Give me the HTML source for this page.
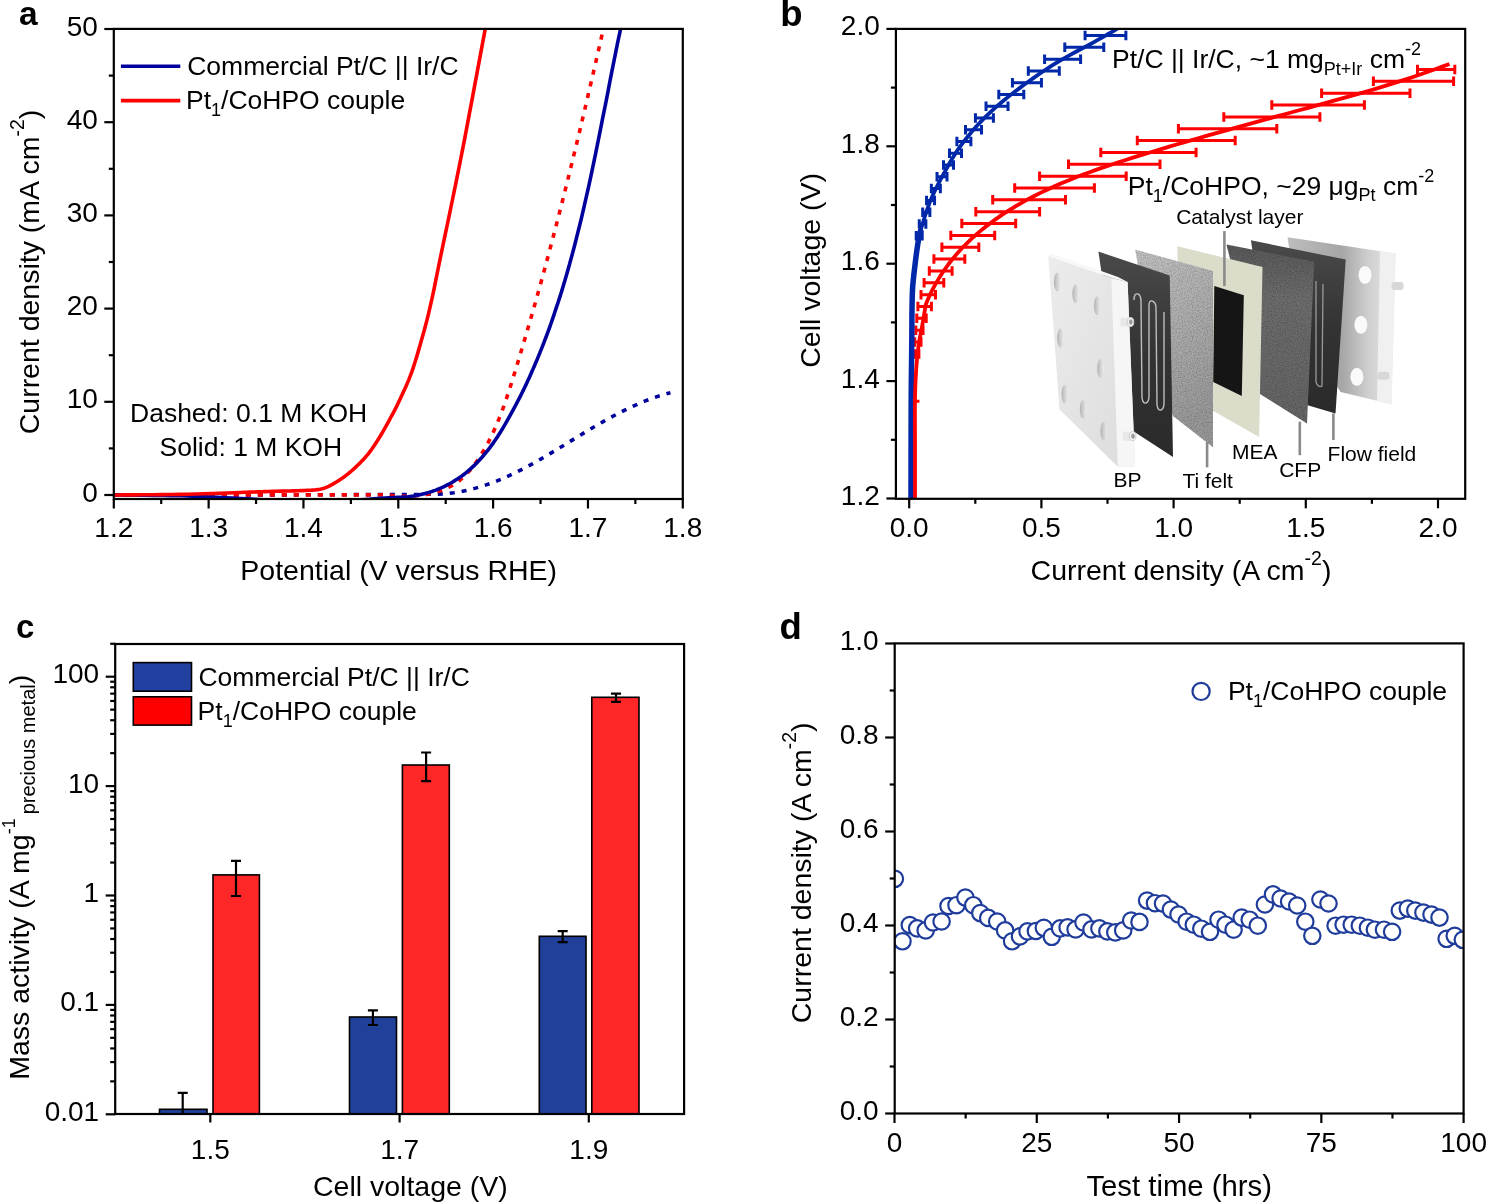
<!DOCTYPE html>
<html><head><meta charset="utf-8"><style>
html,body{margin:0;padding:0;background:#fff;width:1486px;height:1203px;overflow:hidden}
svg{display:block;will-change:transform}
text{font-family:"Liberation Sans", sans-serif;fill:#000}
</style></head><body>
<svg width="1486" height="1203" viewBox="0 0 1486 1203">
<rect width="1486" height="1203" fill="#fff"/>
<g id="pa">
<clipPath id="clipa"><rect x="113.8" y="28.9" width="569" height="470.1"/></clipPath>
<g clip-path="url(#clipa)">
<path d="M113.80,495.30 L139.52,495.23 L176.00,495.14 L219.65,495.02 L266.90,494.90 L314.15,494.78 L357.80,494.66 L394.28,494.57 L420.00,494.50 L425.33,494.15 L431.20,494.28 L437.00,494.19 L442.72,493.89 L448.37,493.39 L453.95,492.69 L459.47,491.81 L464.92,490.75 L470.32,489.51 L475.66,488.12 L480.94,486.56 L486.18,484.87 L491.37,483.03 L496.51,481.06 L501.61,478.97 L506.67,476.77 L511.69,474.46 L516.69,472.05 L521.65,469.55 L526.58,466.97 L531.49,464.32 L536.37,461.60 L541.24,458.82 L546.09,455.99 L550.92,453.12 L555.75,450.22 L560.57,447.29 L565.38,444.35 L570.19,441.39 L575.00,438.43 L579.82,435.49 L584.64,432.55 L589.47,429.64 L594.32,426.76 L599.18,423.92 L604.05,421.12 L608.95,418.38 L613.87,415.71 L618.82,413.10 L623.80,410.58 L628.81,408.14 L633.86,405.80 L638.94,403.56 L644.06,401.43 L649.23,399.43 L654.45,397.55 L659.71,395.80 L665.03,394.21 L670.40,392.76" fill="none" stroke="#00009C" stroke-width="3.6" stroke-linejoin="round" stroke-dasharray="5 7"/>
<path d="M113.80,495.10 L136.61,495.07 L168.97,495.04 L207.69,495.00 L249.60,494.95 L291.51,494.90 L330.23,494.86 L362.59,494.83 L385.40,494.80 L394.82,495.74 L404.61,496.25 L414.47,495.99 L424.23,494.91 L433.73,492.92 L442.82,489.97 L451.34,485.97 L459.12,480.85 L466.07,474.63 L472.28,467.53 L477.88,459.85 L482.98,451.84 L487.65,443.59 L491.93,435.12 L495.87,426.45 L499.51,417.63 L502.91,408.67 L506.10,399.61 L509.13,390.47 L512.04,381.28 L514.89,372.07 L517.70,362.86 L520.48,353.65 L523.23,344.44 L525.94,335.23 L528.63,326.02 L531.29,316.81 L533.91,307.59 L536.51,298.38 L539.09,289.16 L541.63,279.95 L544.16,270.73 L546.65,261.50 L549.12,252.28 L551.57,243.05 L554.00,233.82 L556.40,224.59 L558.79,215.35 L561.15,206.10 L563.50,196.86 L565.82,187.61 L568.13,178.35 L570.42,169.09 L572.69,159.82 L574.95,150.55 L577.20,141.27 L579.43,131.99 L581.64,122.70 L583.85,113.40 L586.04,104.10 L588.22,94.78 L590.39,85.46 L592.55,76.14 L594.70,66.80 L596.85,57.46 L598.98,48.10 L601.12,38.74 L603.24,29.37 L605.36,19.99" fill="none" stroke="#FF0000" stroke-width="3.6" stroke-linejoin="round" stroke-dasharray="5 7"/>
<path d="M113.80,495.00 L118.95,495.05 L125.84,495.10 L134.05,495.16 L143.15,495.23 L152.72,495.33 L162.33,495.45 L171.57,495.60 L180.00,495.80 L187.80,496.04 L195.44,496.33 L202.95,496.66 L210.39,497.01 L217.77,497.38 L225.15,497.76 L232.54,498.14 L240.00,498.50 L247.57,498.89 L255.23,499.32 L262.94,499.78 L270.62,500.23 L278.23,500.65 L285.70,501.02 L292.98,501.31 L300.00,501.50 L306.83,501.58 L313.55,501.57 L320.14,501.48 L326.56,501.34 L332.79,501.16 L338.79,500.95 L344.54,500.72 L350.00,500.50 L355.18,500.25 L360.09,499.95 L364.76,499.62 L369.20,499.26 L373.43,498.91 L377.46,498.57 L381.31,498.26 L385.00,498.00 L388.50,497.80 L391.78,497.63 L394.86,497.50 L397.76,497.39 L400.48,497.27 L403.05,497.15 L405.49,496.99 L407.80,496.80 L409.92,496.57 L411.81,496.33 L413.52,496.08 L415.10,495.80 L416.60,495.51 L418.06,495.19 L419.55,494.86 L421.10,494.50 L422.70,494.12 L424.28,493.72 L425.86,493.30 L427.41,492.86 L428.96,492.40 L430.48,491.91 L432.00,491.42 L433.50,490.90 L434.99,490.37 L436.46,489.81 L437.91,489.24 L439.36,488.65 L440.79,488.04 L442.20,487.41 L443.61,486.77 L445.00,486.10 L446.38,485.41 L447.75,484.71 L449.11,483.98 L450.45,483.24 L451.78,482.48 L453.10,481.70 L454.41,480.91 L455.70,480.10 L456.98,479.28 L458.25,478.44 L459.51,477.59 L460.76,476.73 L461.99,475.84 L463.21,474.94 L464.41,474.03 L465.60,473.10 L466.77,472.15 L467.93,471.19 L469.07,470.21 L470.20,469.22 L471.32,468.21 L472.42,467.19 L473.51,466.15 L474.60,465.10 L475.68,464.04 L476.74,462.95 L477.79,461.86 L478.83,460.75 L479.86,459.63 L480.88,458.50 L481.90,457.35 L482.90,456.20 L483.90,455.04 L484.88,453.86 L485.86,452.68 L486.82,451.48 L487.78,450.27 L488.73,449.06 L489.67,447.83 L490.60,446.60 L491.52,445.36 L492.43,444.10 L493.33,442.84 L494.22,441.57 L495.10,440.29 L495.97,439.00 L496.84,437.70 L497.70,436.40 L498.55,435.09 L499.39,433.77 L500.23,432.44 L501.06,431.10 L501.88,429.76 L502.69,428.41 L503.50,427.06 L504.30,425.70 L505.10,424.34 L505.88,422.97 L506.66,421.60 L507.44,420.22 L508.21,418.85 L508.97,417.46 L509.74,416.08 L510.50,414.70 L511.26,413.32 L512.02,411.94 L512.77,410.55 L513.52,409.17 L514.27,407.78 L515.02,406.39 L515.76,405.00 L516.50,403.60 L517.24,402.20 L517.97,400.79 L518.70,399.39 L519.43,397.98 L520.16,396.56 L520.88,395.14 L521.59,393.72 L522.30,392.30 L523.00,390.87 L523.70,389.44 L524.40,388.01 L525.09,386.58 L525.77,385.14 L526.45,383.69 L527.13,382.25 L527.80,380.80 L528.47,379.35 L529.13,377.89 L529.78,376.43 L530.43,374.96 L531.08,373.50 L531.72,372.03 L532.36,370.56 L533.00,369.10 L533.64,367.64 L534.27,366.18 L534.90,364.73 L535.52,363.27 L536.15,361.81 L536.77,360.35 L537.39,358.88 L538.00,357.40 L538.61,355.91 L539.22,354.42 L539.82,352.92 L540.43,351.42 L541.02,349.91 L541.62,348.41 L542.21,346.90 L542.80,345.40 L543.39,343.90 L543.97,342.40 L544.55,340.91 L545.12,339.41 L545.70,337.91 L546.27,336.41 L546.84,334.91 L547.40,333.40 L547.96,331.89 L548.52,330.37 L549.08,328.84 L549.63,327.32 L550.18,325.79 L550.73,324.26 L551.27,322.73 L551.80,321.20 L552.33,319.67 L552.85,318.13 L553.36,316.59 L553.87,315.06 L554.38,313.52 L554.88,311.98 L555.39,310.44 L555.90,308.90 L556.41,307.36 L556.93,305.83 L557.45,304.30 L557.97,302.76 L558.48,301.23 L559.00,299.69 L559.50,298.15 L560.00,296.60 L560.49,295.05 L560.97,293.49 L561.45,291.93 L561.93,290.37 L562.40,288.80 L562.86,287.24 L563.33,285.67 L563.80,284.10 L564.27,282.53 L564.74,280.96 L565.20,279.38 L565.67,277.81 L566.13,276.23 L566.59,274.65 L567.05,273.08 L567.50,271.50 L567.95,269.93 L568.39,268.35 L568.83,266.78 L569.27,265.21 L569.70,263.63 L570.14,262.06 L570.57,260.48 L571.00,258.90 L571.43,257.32 L571.86,255.73 L572.29,254.14 L572.72,252.56 L573.14,250.97 L573.57,249.38 L573.99,247.79 L574.40,246.20 L574.81,244.61 L575.21,243.03 L575.61,241.44 L576.01,239.86 L576.41,238.27 L576.80,236.68 L577.20,235.09 L577.60,233.50 L578.00,231.90 L578.40,230.31 L578.81,228.71 L579.21,227.11 L579.61,225.50 L580.01,223.90 L580.41,222.30 L580.80,220.70 L581.19,219.10 L581.57,217.50 L581.94,215.90 L582.32,214.30 L582.69,212.70 L583.06,211.10 L583.43,209.50 L583.80,207.90 L584.17,206.30 L584.53,204.70 L584.89,203.10 L585.26,201.51 L585.62,199.91 L585.98,198.31 L586.34,196.70 L586.70,195.10 L587.06,193.49 L587.43,191.88 L587.80,190.27 L588.16,188.65 L588.53,187.03 L588.89,185.42 L589.25,183.81 L589.60,182.20 L589.95,180.60 L590.29,179.00 L590.63,177.40 L590.96,175.80 L591.30,174.20 L591.63,172.60 L591.96,171.00 L592.30,169.40 L592.64,167.79 L592.98,166.18 L593.32,164.57 L593.66,162.95 L593.99,161.33 L594.33,159.72 L594.67,158.11 L595.00,156.50 L595.33,154.90 L595.66,153.30 L595.98,151.70 L596.31,150.10 L596.63,148.50 L596.95,146.90 L597.28,145.30 L597.60,143.70 L597.93,142.09 L598.25,140.48 L598.58,138.87 L598.91,137.25 L599.23,135.63 L599.56,134.02 L599.88,132.41 L600.20,130.80 L600.52,129.19 L600.83,127.59 L601.14,125.99 L601.45,124.39 L601.76,122.79 L602.07,121.19 L602.38,119.59 L602.70,118.00 L603.02,116.41 L603.35,114.82 L603.67,113.23 L604.00,111.64 L604.33,110.06 L604.65,108.47 L604.98,106.89 L605.30,105.30 L605.62,103.71 L605.93,102.12 L606.25,100.54 L606.56,98.95 L606.87,97.36 L607.18,95.77 L607.49,94.19 L607.80,92.60 L608.10,91.01 L608.40,89.42 L608.70,87.83 L609.00,86.24 L609.30,84.66 L609.60,83.07 L609.90,81.48 L610.20,79.90 L610.51,78.32 L610.82,76.74 L611.13,75.16 L611.44,73.59 L611.76,72.01 L612.07,70.44 L612.39,68.87 L612.70,67.30 L613.01,65.73 L613.33,64.17 L613.64,62.60 L613.95,61.04 L614.26,59.48 L614.58,57.92 L614.89,56.36 L615.20,54.80 L615.51,53.24 L615.82,51.69 L616.13,50.14 L616.44,48.59 L616.76,47.04 L617.07,45.49 L617.38,43.94 L617.70,42.40 L618.02,40.84 L618.36,39.27 L618.70,37.68 L619.04,36.11 L619.37,34.55 L619.70,33.02 L620.01,31.53 L620.30,30.10 L620.58,28.66 L620.87,27.18 L621.15,25.71 L621.41,24.28 L621.66,22.95 L621.88,21.76 L622.06,20.76 L622.20,20.00" fill="none" stroke="#00009C" stroke-width="3.6" stroke-linejoin="round" />
<path d="M113.80,495.00 L118.95,494.96 L125.84,494.92 L134.05,494.88 L143.15,494.82 L152.72,494.75 L162.33,494.66 L171.57,494.54 L180.00,494.40 L187.99,494.22 L196.09,494.00 L204.17,493.75 L212.12,493.48 L219.80,493.21 L227.09,492.95 L233.87,492.71 L240.00,492.50 L245.36,492.32 L250.02,492.16 L254.14,492.02 L257.88,491.89 L261.40,491.76 L264.87,491.64 L268.45,491.52 L272.30,491.40 L276.47,491.28 L280.83,491.16 L285.27,491.05 L289.66,490.94 L293.91,490.83 L297.89,490.72 L301.49,490.61 L304.60,490.50 L307.17,490.40 L309.29,490.31 L311.05,490.22 L312.53,490.13 L313.83,490.03 L315.03,489.92 L316.23,489.77 L317.50,489.60 L318.77,489.41 L319.90,489.22 L320.94,489.02 L321.93,488.80 L322.90,488.54 L323.90,488.23 L324.95,487.85 L326.10,487.40 L327.34,486.87 L328.65,486.27 L329.99,485.60 L331.36,484.89 L332.75,484.13 L334.15,483.34 L335.53,482.53 L336.90,481.70 L338.25,480.85 L339.60,479.98 L340.95,479.08 L342.31,478.14 L343.66,477.18 L345.01,476.19 L346.35,475.16 L347.70,474.10 L349.04,473.01 L350.38,471.89 L351.72,470.75 L353.05,469.57 L354.38,468.36 L355.72,467.11 L357.06,465.82 L358.40,464.50 L359.75,463.15 L361.09,461.79 L362.44,460.39 L363.79,458.96 L365.15,457.47 L366.50,455.92 L367.85,454.30 L369.20,452.60 L370.55,450.81 L371.90,448.95 L373.24,447.02 L374.59,445.03 L375.94,442.97 L377.29,440.86 L378.64,438.70 L380.00,436.50 L381.38,434.21 L382.79,431.81 L384.21,429.34 L385.62,426.83 L387.03,424.30 L388.40,421.80 L389.73,419.36 L391.00,417.00 L392.18,414.80 L393.28,412.77 L394.32,410.82 L395.34,408.88 L396.36,406.87 L397.43,404.72 L398.56,402.35 L399.80,399.70 L401.15,396.80 L402.58,393.75 L404.07,390.54 L405.60,387.16 L407.16,383.61 L408.73,379.87 L410.28,375.93 L411.80,371.80 L413.33,367.33 L414.90,362.48 L416.48,357.37 L418.06,352.11 L419.60,346.81 L421.09,341.60 L422.50,336.59 L423.80,331.90 L424.98,327.57 L426.06,323.51 L427.06,319.62 L428.00,315.84 L428.91,312.06 L429.81,308.20 L430.74,304.18 L431.70,299.90 L432.60,295.83 L433.37,292.23 L434.09,288.77 L434.83,285.07 L435.68,280.81 L436.73,275.60 L438.04,269.12 L439.70,261.00 L441.75,251.10 L444.13,239.71 L446.77,227.09 L449.61,213.51 L452.56,199.24 L455.58,184.55 L458.58,169.71 L461.50,155.00 L464.54,139.32 L467.85,121.94 L471.29,103.68 L474.71,85.38 L477.98,67.83 L480.94,51.88 L483.47,38.32 L485.40,28.00 L486.68,21.25 L487.41,17.45 L487.70,15.93 L487.69,16.06 L487.50,17.18 L487.24,18.65 L487.03,19.80 L487.00,20.00" fill="none" stroke="#FF0000" stroke-width="3.6" stroke-linejoin="round" />
</g>
<rect x="113.8" y="28.9" width="569.0" height="470.1" fill="none" stroke="#000" stroke-width="2.2"/>
<line x1="104.30" y1="495.00" x2="113.80" y2="495.00" stroke="#000" stroke-width="2.2" />
<line x1="104.30" y1="401.80" x2="113.80" y2="401.80" stroke="#000" stroke-width="2.2" />
<line x1="104.30" y1="308.60" x2="113.80" y2="308.60" stroke="#000" stroke-width="2.2" />
<line x1="104.30" y1="215.40" x2="113.80" y2="215.40" stroke="#000" stroke-width="2.2" />
<line x1="104.30" y1="122.20" x2="113.80" y2="122.20" stroke="#000" stroke-width="2.2" />
<line x1="104.30" y1="29.00" x2="113.80" y2="29.00" stroke="#000" stroke-width="2.2" />
<line x1="108.80" y1="448.40" x2="113.80" y2="448.40" stroke="#000" stroke-width="2.2" />
<line x1="108.80" y1="355.20" x2="113.80" y2="355.20" stroke="#000" stroke-width="2.2" />
<line x1="108.80" y1="262.00" x2="113.80" y2="262.00" stroke="#000" stroke-width="2.2" />
<line x1="108.80" y1="168.80" x2="113.80" y2="168.80" stroke="#000" stroke-width="2.2" />
<line x1="108.80" y1="75.60" x2="113.80" y2="75.60" stroke="#000" stroke-width="2.2" />
<text x="97.80" y="501.50" font-size="28" text-anchor="end" >0</text>
<text x="97.80" y="408.30" font-size="28" text-anchor="end" >10</text>
<text x="97.80" y="315.10" font-size="28" text-anchor="end" >20</text>
<text x="97.80" y="221.90" font-size="28" text-anchor="end" >30</text>
<text x="97.80" y="128.70" font-size="28" text-anchor="end" >40</text>
<text x="97.80" y="35.50" font-size="28" text-anchor="end" >50</text>
<line x1="113.80" y1="499.00" x2="113.80" y2="508.50" stroke="#000" stroke-width="2.2" />
<line x1="208.63" y1="499.00" x2="208.63" y2="508.50" stroke="#000" stroke-width="2.2" />
<line x1="303.46" y1="499.00" x2="303.46" y2="508.50" stroke="#000" stroke-width="2.2" />
<line x1="398.29" y1="499.00" x2="398.29" y2="508.50" stroke="#000" stroke-width="2.2" />
<line x1="493.12" y1="499.00" x2="493.12" y2="508.50" stroke="#000" stroke-width="2.2" />
<line x1="587.95" y1="499.00" x2="587.95" y2="508.50" stroke="#000" stroke-width="2.2" />
<line x1="682.78" y1="499.00" x2="682.78" y2="508.50" stroke="#000" stroke-width="2.2" />
<line x1="161.22" y1="499.00" x2="161.22" y2="504.00" stroke="#000" stroke-width="2.2" />
<line x1="256.05" y1="499.00" x2="256.05" y2="504.00" stroke="#000" stroke-width="2.2" />
<line x1="350.88" y1="499.00" x2="350.88" y2="504.00" stroke="#000" stroke-width="2.2" />
<line x1="445.71" y1="499.00" x2="445.71" y2="504.00" stroke="#000" stroke-width="2.2" />
<line x1="540.53" y1="499.00" x2="540.53" y2="504.00" stroke="#000" stroke-width="2.2" />
<line x1="635.37" y1="499.00" x2="635.37" y2="504.00" stroke="#000" stroke-width="2.2" />
<text x="113.80" y="537.20" font-size="28" text-anchor="middle" >1.2</text>
<text x="208.63" y="537.20" font-size="28" text-anchor="middle" >1.3</text>
<text x="303.46" y="537.20" font-size="28" text-anchor="middle" >1.4</text>
<text x="398.29" y="537.20" font-size="28" text-anchor="middle" >1.5</text>
<text x="493.12" y="537.20" font-size="28" text-anchor="middle" >1.6</text>
<text x="587.95" y="537.20" font-size="28" text-anchor="middle" >1.7</text>
<text x="682.78" y="537.20" font-size="28" text-anchor="middle" >1.8</text>
<line x1="120.90" y1="66.20" x2="180.30" y2="66.20" stroke="#00009C" stroke-width="3.6" />
<line x1="120.90" y1="100.60" x2="180.30" y2="100.60" stroke="#FF0000" stroke-width="3.6" />
<text x="187.20" y="75.30" font-size="26.5" text-anchor="start" >Commercial Pt/C || Ir/C</text>
<text x="186.00" y="109.20" font-size="26.5" text-anchor="start" >Pt<tspan dy="6.6" font-size="18">1</tspan><tspan dy="-6.6">&#8203;</tspan>/CoHPO couple</text>
<text x="130.00" y="422.00" font-size="26.5" text-anchor="start" >Dashed: 0.1 M KOH</text>
<text x="159.50" y="455.70" font-size="26.5" text-anchor="start" >Solid: 1 M KOH</text>
<text x="398.70" y="579.70" font-size="28.5" text-anchor="middle" >Potential (V versus RHE)</text>
<text transform="translate(38.8,272.0) rotate(-90)" font-size="28.5" text-anchor="middle">Current density (mA cm<tspan dy="-14.8" font-size="19.5">-2</tspan><tspan dy="14.8">&#8203;</tspan>)</text>
<text x="19" y="25.0" font-size="33.5" font-weight="bold">a</text>
</g>
<g id="pb">
<text x="780.2" y="26.0" font-size="36.5" font-weight="bold">b</text>
<defs>
<linearGradient id="gwr" x1="0" y1="0" x2="1" y2="0"><stop offset="0" stop-color="#bdbdbd"/><stop offset="0.5" stop-color="#a6a6a6"/><stop offset="0.75" stop-color="#cfcfcf"/><stop offset="1" stop-color="#e8e8e8"/></linearGradient>
<linearGradient id="gwl" x1="0" y1="0" x2="1" y2="1"><stop offset="0" stop-color="#ececec"/><stop offset="1" stop-color="#dcdcdc"/></linearGradient>
<linearGradient id="gdk" x1="0" y1="0" x2="0" y2="1"><stop offset="0" stop-color="#4a4a4a"/><stop offset="0.5" stop-color="#333"/><stop offset="1" stop-color="#2a2a2a"/></linearGradient>
<linearGradient id="ghole" x1="0" y1="0" x2="1" y2="0"><stop offset="0" stop-color="#b4b4b4"/><stop offset="0.6" stop-color="#d6d6d6"/><stop offset="1" stop-color="#ececec"/></linearGradient>
<linearGradient id="gfelt" x1="0" y1="0" x2="0.3" y2="1"><stop offset="0" stop-color="#c4c4c4"/><stop offset="1" stop-color="#9a9a9a"/></linearGradient>
<linearGradient id="gcfp" x1="0" y1="0" x2="0" y2="1"><stop offset="0" stop-color="#5a5a5a"/><stop offset="0.3" stop-color="#6e6e6e"/><stop offset="1" stop-color="#666"/></linearGradient>
<filter id="speck" x="0" y="0" width="1" height="1"><feTurbulence type="fractalNoise" baseFrequency="0.8" numOctaves="2" seed="5" result="n"/><feColorMatrix in="n" type="matrix" values="0 0 0 0 0  0 0 0 0 0  0 0 0 0 0  0.9 0 0 0 -0.33" result="nn"/><feComposite in="nn" in2="SourceGraphic" operator="in" result="m"/><feMerge><feMergeNode in="SourceGraphic"/><feMergeNode in="m"/></feMerge></filter>
</defs>
<polygon points="1287.6,237.2 1395.6,253.5 1391.5,404.3 1340.6,392.0 1300.0,330.0" fill="url(#gwr)" />
<polygon points="1380.0,251.0 1395.6,253.5 1391.5,404.3 1377.0,401.0" fill="#f0f0f0" />
<ellipse cx="1365" cy="274.9" rx="6.5" ry="9" fill="#fafafa"/>
<ellipse cx="1360.9" cy="324.8" rx="6.5" ry="9" fill="#fafafa"/>
<ellipse cx="1356.9" cy="376.8" rx="6.5" ry="9" fill="#fafafa"/>
<rect x="1391.6" y="282.1" width="12" height="8" rx="3" fill="#d8d8d8"/>
<rect x="1377.3" y="371.7" width="12" height="8" rx="3" fill="#d8d8d8"/>
<polygon points="1250.9,240.3 1345.7,259.6 1335.5,413.4 1290.0,400.0 1260.0,300.0" fill="url(#gdk)" />
<path d="M1316,281 L1316,382 Q1318,388 1322,386 L1323,284" fill="none" stroke="#9a9a9a" stroke-width="1.3"/>
<polygon points="1226.5,244.4 1314.1,261.7 1307.0,423.6 1260.0,394.0 1240.0,300.0" fill="url(#gcfp)" filter="url(#speck)"/>
<polygon points="1177.3,246.2 1262.5,267.0 1259.1,437.0 1180.0,392.0" fill="#dcdccb" />
<polygon points="1214.3,286.1 1243.8,295.3 1241.8,396.1 1213.2,381.9" fill="#151515" />
<polygon points="1135.1,249.5 1213.0,271.1 1213.0,447.3 1173.0,416.0 1150.0,330.0" fill="url(#gfelt)" filter="url(#speck)"/>
<polygon points="1098.4,251.6 1169.7,275.4 1173.0,457.0 1133.0,431.0 1110.0,330.0" fill="url(#gdk)" />
<path d="M1134,300 Q1134,293 1138,294 Q1141,295 1141,302 L1142,398 Q1143,404 1146,403 Q1149,402 1149,396 L1149,306 Q1149,300 1152,301 Q1156,302 1156,308 L1157,405 Q1158,411 1161,410 Q1164,409 1164,403 L1164,312" fill="none" stroke="#bdbdbd" stroke-width="1.4"/>
<polygon points="1048.2,255.9 1113.5,278.6 1127.6,281.9 1135.1,466.8 1117.8,466.8 1059.5,409.5" fill="url(#gwl)" />
<polygon points="1111.4,278.6 1127.6,281.9 1135.1,466.8 1117.8,466.8" fill="#f6f6f6" />
<polygon points="1048.2,255.9 1052.0,253.5 1118.0,277.0 1127.6,281.9 1113.5,278.6" fill="#f8f8f8" />
<ellipse cx="1057.3" cy="281.9" rx="3.4" ry="9.5" fill="url(#ghole)"/>
<ellipse cx="1075.7" cy="293.8" rx="3.4" ry="9.5" fill="url(#ghole)"/>
<ellipse cx="1097.3" cy="305.7" rx="3.4" ry="9.5" fill="url(#ghole)"/>
<ellipse cx="1060.5" cy="338.1" rx="3.4" ry="9.5" fill="url(#ghole)"/>
<ellipse cx="1100.5" cy="368.4" rx="3.4" ry="9.5" fill="url(#ghole)"/>
<ellipse cx="1064.9" cy="394.3" rx="3.4" ry="9.5" fill="url(#ghole)"/>
<ellipse cx="1083.2" cy="409.5" rx="3.4" ry="9.5" fill="url(#ghole)"/>
<ellipse cx="1103.8" cy="431.1" rx="3.4" ry="9.5" fill="url(#ghole)"/>
<rect x="1120.5" y="317.5" width="10" height="9" fill="#e8e8e8"/>
<ellipse cx="1130.5" cy="322" rx="3.3" ry="4.5" fill="#f4f4f4" stroke="#cfcfcf" stroke-width="1"/>
<ellipse cx="1130.8" cy="322" rx="1.8" ry="2.8" fill="#9a9a9a"/>
<rect x="1122.7" y="431.7" width="10" height="9" fill="#e8e8e8"/>
<ellipse cx="1132.7" cy="436.2" rx="3.3" ry="4.5" fill="#f4f4f4" stroke="#cfcfcf" stroke-width="1"/>
<ellipse cx="1133.0" cy="436.2" rx="1.8" ry="2.8" fill="#9a9a9a"/>
<line x1="1224.40" y1="231.10" x2="1224.40" y2="286.10" stroke="#8a8a8a" stroke-width="2.6" />
<line x1="1207.10" y1="442.00" x2="1207.10" y2="467.40" stroke="#8a8a8a" stroke-width="2.6" />
<line x1="1299.80" y1="421.60" x2="1299.80" y2="455.20" stroke="#8a8a8a" stroke-width="2.6" />
<line x1="1333.40" y1="413.40" x2="1333.40" y2="440.00" stroke="#8a8a8a" stroke-width="2.6" />
<text x="1176.20" y="223.60" font-size="21" text-anchor="start" >Catalyst layer</text>
<text x="1113.60" y="486.70" font-size="21" text-anchor="start" >BP</text>
<text x="1182.40" y="488.00" font-size="21" text-anchor="start" >Ti felt</text>
<text x="1232.00" y="459.00" font-size="21" text-anchor="start" >MEA</text>
<text x="1279.20" y="477.30" font-size="21" text-anchor="start" >CFP</text>
<text x="1327.60" y="460.60" font-size="21" text-anchor="start" >Flow field</text>
<clipPath id="clipb"><rect x="895.9" y="28.9" width="569.3" height="469.9"/></clipPath>
<g clip-path="url(#clipb)">
<path d="M1085.08,35.60 H1125.88 M1085.08,30.85 V40.35 M1125.88,30.85 V40.35" stroke="#0028A8" stroke-width="3.0" fill="none"/>
<path d="M1064.78,47.37 H1103.78 M1064.78,42.62 V52.12 M1103.78,42.62 V52.12" stroke="#0028A8" stroke-width="3.0" fill="none"/>
<path d="M1044.59,59.14 H1080.59 M1044.59,54.39 V63.89 M1080.59,54.39 V63.89" stroke="#0028A8" stroke-width="3.0" fill="none"/>
<path d="M1028.30,70.91 H1059.30 M1028.30,66.16 V75.66 M1059.30,66.16 V75.66" stroke="#0028A8" stroke-width="3.0" fill="none"/>
<path d="M1012.44,82.68 H1041.44 M1012.44,77.93 V87.43 M1041.44,77.93 V87.43" stroke="#0028A8" stroke-width="3.0" fill="none"/>
<path d="M998.79,94.45 H1023.79 M998.79,89.70 V99.20 M1023.79,89.70 V99.20" stroke="#0028A8" stroke-width="3.0" fill="none"/>
<path d="M986.02,106.22 H1008.02 M986.02,101.47 V110.97 M1008.02,101.47 V110.97" stroke="#0028A8" stroke-width="3.0" fill="none"/>
<path d="M975.42,117.99 H993.42 M975.42,113.24 V122.74 M993.42,113.24 V122.74" stroke="#0028A8" stroke-width="3.0" fill="none"/>
<path d="M965.50,129.76 H981.50 M965.50,125.01 V134.51 M981.50,125.01 V134.51" stroke="#0028A8" stroke-width="3.0" fill="none"/>
<path d="M956.88,141.53 H970.88 M956.88,136.78 V146.28 M970.88,136.78 V146.28" stroke="#0028A8" stroke-width="3.0" fill="none"/>
<path d="M949.51,153.30 H961.51 M949.51,148.55 V158.05 M961.51,148.55 V158.05" stroke="#0028A8" stroke-width="3.0" fill="none"/>
<path d="M943.52,165.07 H953.52 M943.52,160.32 V169.82 M953.52,160.32 V169.82" stroke="#0028A8" stroke-width="3.0" fill="none"/>
<path d="M937.02,176.84 H947.02 M937.02,172.09 V181.59 M947.02,172.09 V181.59" stroke="#0028A8" stroke-width="3.0" fill="none"/>
<path d="M931.37,188.61 H940.37 M931.37,183.86 V193.36 M940.37,183.86 V193.36" stroke="#0028A8" stroke-width="3.0" fill="none"/>
<path d="M926.55,200.38 H934.55 M926.55,195.63 V205.13 M934.55,195.63 V205.13" stroke="#0028A8" stroke-width="3.0" fill="none"/>
<path d="M922.68,212.15 H929.88 M922.68,207.40 V216.90 M929.88,207.40 V216.90" stroke="#0028A8" stroke-width="3.0" fill="none"/>
<path d="M919.26,223.92 H925.86 M919.26,219.17 V228.67 M925.86,219.17 V228.67" stroke="#0028A8" stroke-width="3.0" fill="none"/>
<path d="M916.21,235.69 H922.21 M916.21,230.94 V240.44 M922.21,230.94 V240.44" stroke="#0028A8" stroke-width="3.0" fill="none"/>
<path d="M1417.50,69.50 H1454.80 M1417.50,64.75 V74.25 M1454.80,64.75 V74.25" stroke="#FF0000" stroke-width="3.0" fill="none"/>
<path d="M1373.40,81.35 H1453.60 M1373.40,76.60 V86.10 M1453.60,76.60 V86.10" stroke="#FF0000" stroke-width="3.0" fill="none"/>
<path d="M1321.60,93.20 H1410.00 M1321.60,88.45 V97.95 M1410.00,88.45 V97.95" stroke="#FF0000" stroke-width="3.0" fill="none"/>
<path d="M1271.80,105.05 H1364.40 M1271.80,100.30 V109.80 M1364.40,100.30 V109.80" stroke="#FF0000" stroke-width="3.0" fill="none"/>
<path d="M1223.80,116.90 H1319.90 M1223.80,112.15 V121.65 M1319.90,112.15 V121.65" stroke="#FF0000" stroke-width="3.0" fill="none"/>
<path d="M1178.40,128.75 H1276.80 M1178.40,124.00 V133.50 M1276.80,124.00 V133.50" stroke="#FF0000" stroke-width="3.0" fill="none"/>
<path d="M1137.30,140.60 H1235.20 M1137.30,135.85 V145.35 M1235.20,135.85 V145.35" stroke="#FF0000" stroke-width="3.0" fill="none"/>
<path d="M1100.80,152.45 H1196.10 M1100.80,147.70 V157.20 M1196.10,147.70 V157.20" stroke="#FF0000" stroke-width="3.0" fill="none"/>
<path d="M1068.50,164.30 H1160.00 M1068.50,159.55 V169.05 M1160.00,159.55 V169.05" stroke="#FF0000" stroke-width="3.0" fill="none"/>
<path d="M1039.60,176.15 H1126.20 M1039.60,171.40 V180.90 M1126.20,171.40 V180.90" stroke="#FF0000" stroke-width="3.0" fill="none"/>
<path d="M1014.70,188.00 H1094.40 M1014.70,183.25 V192.75 M1094.40,183.25 V192.75" stroke="#FF0000" stroke-width="3.0" fill="none"/>
<path d="M992.70,199.85 H1065.50 M992.70,195.10 V204.60 M1065.50,195.10 V204.60" stroke="#FF0000" stroke-width="3.0" fill="none"/>
<path d="M975.80,211.70 H1039.60 M975.80,206.95 V216.45 M1039.60,206.95 V216.45" stroke="#FF0000" stroke-width="3.0" fill="none"/>
<path d="M961.80,223.55 H1015.70 M961.80,218.80 V228.30 M1015.70,218.80 V228.30" stroke="#FF0000" stroke-width="3.0" fill="none"/>
<path d="M950.80,235.40 H994.70 M950.80,230.65 V240.15 M994.70,230.65 V240.15" stroke="#FF0000" stroke-width="3.0" fill="none"/>
<path d="M941.90,247.25 H978.80 M941.90,242.50 V252.00 M978.80,242.50 V252.00" stroke="#FF0000" stroke-width="3.0" fill="none"/>
<path d="M933.90,259.10 H964.80 M933.90,254.35 V263.85 M964.80,254.35 V263.85" stroke="#FF0000" stroke-width="3.0" fill="none"/>
<path d="M929.30,270.95 H952.10 M929.30,266.20 V275.70 M952.10,266.20 V275.70" stroke="#FF0000" stroke-width="3.0" fill="none"/>
<path d="M924.10,282.80 H943.80 M924.10,278.05 V287.55 M943.80,278.05 V287.55" stroke="#FF0000" stroke-width="3.0" fill="none"/>
<path d="M921.00,294.65 H935.50 M921.00,289.90 V299.40 M935.50,289.90 V299.40" stroke="#FF0000" stroke-width="3.0" fill="none"/>
<path d="M917.90,306.50 H931.40 M917.90,301.75 V311.25 M931.40,301.75 V311.25" stroke="#FF0000" stroke-width="3.0" fill="none"/>
<path d="M916.80,318.35 H926.20 M916.80,313.60 V323.10 M926.20,313.60 V323.10" stroke="#FF0000" stroke-width="3.0" fill="none"/>
<path d="M915.80,330.20 H923.00 M915.80,325.45 V334.95 M923.00,325.45 V334.95" stroke="#FF0000" stroke-width="3.0" fill="none"/>
<path d="M914.70,342.05 H921.00 M914.70,337.30 V346.80 M921.00,337.30 V346.80" stroke="#FF0000" stroke-width="3.0" fill="none"/>
<path d="M914.70,353.90 H918.90 M914.70,349.15 V358.65 M918.90,349.15 V358.65" stroke="#FF0000" stroke-width="3.0" fill="none"/>
<path d="M914.98,401.30 H919.48" stroke="#FF0000" stroke-width="3" fill="none"/>
<path d="M911.00,498.80 L911.01,490.91 L911.03,480.14 L911.04,467.28 L911.06,453.15 L911.09,438.55 L911.12,424.29 L911.15,411.17 L911.20,400.00 L911.26,390.44 L911.33,381.57 L911.41,373.34 L911.50,365.70 L911.59,358.60 L911.67,351.98 L911.74,345.80 L911.80,340.00 L911.84,334.75 L911.87,330.16 L911.89,326.11 L911.91,322.50 L911.92,319.20 L911.94,316.09 L911.96,313.07 L912.00,310.00 L912.04,306.97 L912.09,304.11 L912.14,301.42 L912.20,298.88 L912.26,296.47 L912.33,294.20 L912.41,292.05 L912.50,290.00 L912.60,288.12 L912.70,286.46 L912.82,284.96 L912.94,283.56 L913.07,282.22 L913.20,280.88 L913.35,279.49 L913.50,278.00 L913.66,276.42 L913.84,274.80 L914.03,273.15 L914.22,271.50 L914.42,269.85 L914.61,268.20 L914.81,266.58 L915.00,265.00 L915.18,263.46 L915.36,261.95 L915.54,260.47 L915.72,259.00 L915.90,257.53 L916.09,256.05 L916.29,254.54 L916.50,253.00 L916.72,251.41 L916.96,249.76 L917.20,248.09 L917.44,246.41 L917.70,244.74 L917.96,243.10 L918.23,241.52 L918.50,240.00 L918.73,238.69 L918.89,237.63 L919.04,236.70 L919.20,235.76 L919.43,234.68 L919.76,233.35 L920.23,231.63 L920.90,229.40 L921.76,226.57 L922.77,223.24 L923.92,219.51 L925.17,215.53 L926.52,211.41 L927.94,207.29 L929.41,203.27 L930.90,199.50 L932.45,195.90 L934.07,192.34 L935.77,188.81 L937.53,185.31 L939.34,181.84 L941.17,178.39 L943.03,174.98 L944.90,171.60 L946.74,168.27 L948.55,165.01 L950.37,161.79 L952.23,158.60 L954.17,155.41 L956.22,152.19 L958.42,148.93 L960.80,145.60 L963.36,142.19 L966.07,138.71 L968.91,135.19 L971.87,131.64 L974.94,128.10 L978.11,124.58 L981.37,121.10 L984.70,117.70 L988.09,114.38 L991.54,111.13 L995.07,107.93 L998.70,104.75 L1002.46,101.57 L1006.36,98.37 L1010.43,95.12 L1014.70,91.80 L1019.21,88.37 L1023.98,84.83 L1028.94,81.22 L1034.04,77.61 L1039.21,74.02 L1044.40,70.51 L1049.55,67.12 L1054.60,63.90 L1059.69,60.81 L1064.93,57.80 L1070.23,54.86 L1075.49,52.02 L1080.64,49.30 L1085.56,46.69 L1090.18,44.22 L1094.40,41.90 L1098.30,39.70 L1101.99,37.60 L1105.45,35.62 L1108.66,33.76 L1111.59,32.06 L1114.20,30.52 L1116.48,29.16 L1118.40,28.00 L1119.85,27.08 L1120.82,26.41 L1121.40,25.94 L1121.70,25.63 L1121.81,25.43 L1121.83,25.28 L1121.86,25.16 L1122.00,25.00" fill="none" stroke="#0028A8" stroke-width="3.8" stroke-linejoin="round" />
<path d="M911.00,498.80 L911.01,490.91 L911.03,480.14 L911.04,467.28 L911.06,453.15 L911.09,438.55 L911.12,424.29 L911.15,411.17 L911.20,400.00 L911.26,390.44 L911.33,381.57 L911.41,373.34 L911.50,365.70 L911.59,358.60 L911.67,351.98 L911.74,345.80 L911.80,340.00 L911.84,334.75 L911.87,330.16 L911.89,326.11 L911.91,322.50 L911.92,319.20 L911.94,316.09 L911.96,313.07 L912.00,310.00 L912.04,306.97 L912.09,304.11 L912.14,301.42 L912.20,298.88 L912.26,296.47 L912.33,294.20 L912.41,292.05 L912.50,290.00 L912.60,288.12 L912.70,286.46 L912.82,284.96 L912.94,283.56 L913.07,282.22 L913.20,280.88 L913.35,279.49 L913.50,278.00 L913.66,276.42 L913.84,274.80 L914.03,273.15 L914.22,271.50 L914.42,269.85 L914.61,268.20 L914.81,266.58 L915.00,265.00 L915.18,263.46 L915.36,261.95 L915.54,260.47 L915.72,259.00 L915.90,257.53 L916.09,256.05 L916.29,254.54 L916.50,253.00 L916.72,251.41 L916.96,249.76 L917.20,248.09 L917.44,246.41 L917.70,244.74 L917.96,243.10 L918.23,241.52 L918.50,240.00 L918.80,238.49 L919.13,236.93 L919.48,235.38 L919.83,233.89 L920.16,232.49 L920.46,231.25 L920.71,230.20 L920.90,229.40" fill="none" stroke="#0028A8" stroke-width="5.5" stroke-linejoin="round" />
<path d="M915.00,498.80 L915.00,494.14 L915.00,487.81 L915.00,480.25 L915.00,471.93 L915.00,463.29 L915.00,454.79 L915.00,446.88 L915.00,440.00 L914.99,433.99 L914.97,428.34 L914.95,423.01 L914.93,417.94 L914.91,413.11 L914.92,408.45 L914.94,403.93 L915.00,399.50 L915.08,395.22 L915.19,391.16 L915.30,387.30 L915.44,383.58 L915.60,379.99 L915.78,376.48 L915.98,373.03 L916.20,369.60 L916.44,366.21 L916.71,362.89 L916.99,359.64 L917.29,356.48 L917.62,353.39 L917.96,350.38 L918.32,347.45 L918.70,344.60 L919.11,341.87 L919.55,339.27 L920.01,336.78 L920.50,334.35 L920.98,331.96 L921.47,329.58 L921.95,327.17 L922.40,324.70 L922.86,322.05 L923.34,319.19 L923.83,316.24 L924.31,313.33 L924.77,310.57 L925.17,308.09 L925.51,306.01 L925.77,304.44 L928.87,297.18 L932.25,290.17 L935.89,283.40 L939.78,276.87 L943.91,270.56 L948.28,264.49 L952.86,258.62 L957.65,252.98 L962.64,247.53 L967.82,242.29 L973.18,237.24 L978.70,232.37 L984.38,227.69 L990.20,223.18 L996.16,218.84 L1002.24,214.66 L1008.43,210.64 L1014.74,206.76 L1021.14,203.03 L1027.64,199.43 L1034.23,195.97 L1040.91,192.63 L1047.67,189.41 L1054.50,186.30 L1061.40,183.29 L1068.37,180.39 L1075.38,177.57 L1082.46,174.85 L1089.57,172.20 L1096.73,169.63 L1103.92,167.13 L1111.14,164.69 L1118.38,162.31 L1125.64,159.97 L1132.90,157.68 L1140.18,155.43 L1147.45,153.20 L1154.72,151.00 L1161.98,148.83 L1169.24,146.67 L1176.49,144.54 L1183.74,142.43 L1190.98,140.33 L1198.22,138.26 L1205.45,136.19 L1212.67,134.15 L1219.89,132.11 L1227.11,130.09 L1234.32,128.08 L1241.53,126.08 L1248.73,124.09 L1255.93,122.11 L1263.13,120.13 L1270.32,118.16 L1277.51,116.19 L1284.70,114.22 L1291.88,112.26 L1299.06,110.29 L1306.24,108.33 L1313.41,106.36 L1320.58,104.39 L1327.75,102.42 L1334.92,100.43 L1342.08,98.43 L1349.25,96.41 L1356.41,94.37 L1363.57,92.30 L1370.73,90.20 L1377.89,88.07 L1385.04,85.90 L1392.20,83.68 L1399.36,81.42 L1406.51,79.11 L1413.67,76.74 L1420.82,74.31 L1427.97,71.82 L1435.13,69.27 L1442.28,66.64 L1449.44,63.93" fill="none" stroke="#FF0000" stroke-width="3.8" stroke-linejoin="round" />
</g>
<rect x="895.9" y="28.9" width="569.30" height="469.90" fill="none" stroke="#000" stroke-width="2.2"/>
<line x1="886.40" y1="498.50" x2="895.90" y2="498.50" stroke="#000" stroke-width="2.2" />
<line x1="886.40" y1="381.10" x2="895.90" y2="381.10" stroke="#000" stroke-width="2.2" />
<line x1="886.40" y1="263.70" x2="895.90" y2="263.70" stroke="#000" stroke-width="2.2" />
<line x1="886.40" y1="146.30" x2="895.90" y2="146.30" stroke="#000" stroke-width="2.2" />
<line x1="886.40" y1="28.90" x2="895.90" y2="28.90" stroke="#000" stroke-width="2.2" />
<line x1="890.90" y1="439.80" x2="895.90" y2="439.80" stroke="#000" stroke-width="2.2" />
<line x1="890.90" y1="322.40" x2="895.90" y2="322.40" stroke="#000" stroke-width="2.2" />
<line x1="890.90" y1="205.00" x2="895.90" y2="205.00" stroke="#000" stroke-width="2.2" />
<line x1="890.90" y1="87.60" x2="895.90" y2="87.60" stroke="#000" stroke-width="2.2" />
<text x="879.80" y="505.00" font-size="28" text-anchor="end" >1.2</text>
<text x="879.80" y="387.60" font-size="28" text-anchor="end" >1.4</text>
<text x="879.80" y="270.20" font-size="28" text-anchor="end" >1.6</text>
<text x="879.80" y="152.80" font-size="28" text-anchor="end" >1.8</text>
<text x="879.80" y="35.40" font-size="28" text-anchor="end" >2.0</text>
<line x1="909.20" y1="498.80" x2="909.20" y2="508.30" stroke="#000" stroke-width="2.2" />
<line x1="1041.40" y1="498.80" x2="1041.40" y2="508.30" stroke="#000" stroke-width="2.2" />
<line x1="1173.60" y1="498.80" x2="1173.60" y2="508.30" stroke="#000" stroke-width="2.2" />
<line x1="1305.80" y1="498.80" x2="1305.80" y2="508.30" stroke="#000" stroke-width="2.2" />
<line x1="1438.00" y1="498.80" x2="1438.00" y2="508.30" stroke="#000" stroke-width="2.2" />
<line x1="975.30" y1="498.80" x2="975.30" y2="503.80" stroke="#000" stroke-width="2.2" />
<line x1="1107.50" y1="498.80" x2="1107.50" y2="503.80" stroke="#000" stroke-width="2.2" />
<line x1="1239.70" y1="498.80" x2="1239.70" y2="503.80" stroke="#000" stroke-width="2.2" />
<line x1="1371.90" y1="498.80" x2="1371.90" y2="503.80" stroke="#000" stroke-width="2.2" />
<text x="909.20" y="537.40" font-size="28" text-anchor="middle" >0.0</text>
<text x="1041.40" y="537.40" font-size="28" text-anchor="middle" >0.5</text>
<text x="1173.60" y="537.40" font-size="28" text-anchor="middle" >1.0</text>
<text x="1305.80" y="537.40" font-size="28" text-anchor="middle" >1.5</text>
<text x="1438.00" y="537.40" font-size="28" text-anchor="middle" >2.0</text>
<text x="1112.00" y="67.90" font-size="26.5" text-anchor="start" >Pt/C || Ir/C, ~1 mg<tspan dy="6.6" font-size="18">Pt+Ir</tspan><tspan dy="-6.6">&#8203;</tspan> cm<tspan dy="-13.2" font-size="18">-2</tspan><tspan dy="13.2">&#8203;</tspan></text>
<text x="1127.80" y="195.40" font-size="26.5" text-anchor="start" >Pt<tspan dy="6.6" font-size="18">1</tspan><tspan dy="-6.6">&#8203;</tspan>/CoHPO, ~29 &#956;g<tspan dy="6.0" font-size="18">Pt</tspan><tspan dy="-6.0">&#8203;</tspan> cm<tspan dy="-13.2" font-size="18">-2</tspan><tspan dy="13.2">&#8203;</tspan></text>
<text x="1181.00" y="580.10" font-size="28.5" text-anchor="middle" >Current density (A cm<tspan dy="-14.8" font-size="19.5">-2</tspan><tspan dy="14.8">&#8203;</tspan>)</text>
<text transform="translate(820.4,270.4) rotate(-90)" font-size="28.5" text-anchor="middle">Cell voltage (V)</text>
</g>
<g id="pc">
<text x="16" y="638.3" font-size="33" font-weight="bold">c</text>
<rect x="159.50" y="1109.30" width="47.50" height="4.70" fill="#21409A" stroke="#000" stroke-width="1.6"/>
<rect x="213.00" y="874.90" width="46.40" height="239.10" fill="#FF2727" stroke="#000" stroke-width="1.6"/>
<rect x="349.50" y="1017.00" width="47.00" height="97.00" fill="#21409A" stroke="#000" stroke-width="1.6"/>
<rect x="402.40" y="765.00" width="46.90" height="349.00" fill="#FF2727" stroke="#000" stroke-width="1.6"/>
<rect x="539.30" y="936.30" width="46.70" height="177.70" fill="#21409A" stroke="#000" stroke-width="1.6"/>
<rect x="591.80" y="697.30" width="47.20" height="416.70" fill="#FF2727" stroke="#000" stroke-width="1.6"/>
<path d="M182.7,1092.9 V1114 M177.7,1092.9 H187.7 M177.7,1114 H187.7" stroke="#000" stroke-width="2.2" fill="none"/>
<path d="M236.0,860.9 V896.0 M231.0,860.9 H241.0 M231.0,896.0 H241.0" stroke="#000" stroke-width="2.2" fill="none"/>
<path d="M372.9,1010.3 V1025.0 M367.9,1010.3 H377.9 M367.9,1025.0 H377.9" stroke="#000" stroke-width="2.2" fill="none"/>
<path d="M426.1,752.5 V781.2 M421.1,752.5 H431.1 M421.1,781.2 H431.1" stroke="#000" stroke-width="2.2" fill="none"/>
<path d="M562.7,931.1 V942.1 M557.7,931.1 H567.7 M557.7,942.1 H567.7" stroke="#000" stroke-width="2.2" fill="none"/>
<path d="M616.0,693.6 V701.9 M611.0,693.6 H621.0 M611.0,701.9 H621.0" stroke="#000" stroke-width="2.2" fill="none"/>
<rect x="115.2" y="644.0" width="568.90" height="470.00" fill="none" stroke="#000" stroke-width="2.2"/>
<line x1="105.70" y1="1114.30" x2="115.20" y2="1114.30" stroke="#000" stroke-width="2.2" />
<line x1="105.70" y1="1004.90" x2="115.20" y2="1004.90" stroke="#000" stroke-width="2.2" />
<line x1="105.70" y1="895.50" x2="115.20" y2="895.50" stroke="#000" stroke-width="2.2" />
<line x1="105.70" y1="786.10" x2="115.20" y2="786.10" stroke="#000" stroke-width="2.2" />
<line x1="105.70" y1="676.70" x2="115.20" y2="676.70" stroke="#000" stroke-width="2.2" />
<line x1="110.20" y1="1081.37" x2="115.20" y2="1081.37" stroke="#000" stroke-width="2.2" />
<line x1="110.20" y1="1062.10" x2="115.20" y2="1062.10" stroke="#000" stroke-width="2.2" />
<line x1="110.20" y1="1048.43" x2="115.20" y2="1048.43" stroke="#000" stroke-width="2.2" />
<line x1="110.20" y1="1037.83" x2="115.20" y2="1037.83" stroke="#000" stroke-width="2.2" />
<line x1="110.20" y1="1029.17" x2="115.20" y2="1029.17" stroke="#000" stroke-width="2.2" />
<line x1="110.20" y1="1021.85" x2="115.20" y2="1021.85" stroke="#000" stroke-width="2.2" />
<line x1="110.20" y1="1015.50" x2="115.20" y2="1015.50" stroke="#000" stroke-width="2.2" />
<line x1="110.20" y1="1009.91" x2="115.20" y2="1009.91" stroke="#000" stroke-width="2.2" />
<line x1="110.20" y1="971.97" x2="115.20" y2="971.97" stroke="#000" stroke-width="2.2" />
<line x1="110.20" y1="952.70" x2="115.20" y2="952.70" stroke="#000" stroke-width="2.2" />
<line x1="110.20" y1="939.03" x2="115.20" y2="939.03" stroke="#000" stroke-width="2.2" />
<line x1="110.20" y1="928.43" x2="115.20" y2="928.43" stroke="#000" stroke-width="2.2" />
<line x1="110.20" y1="919.77" x2="115.20" y2="919.77" stroke="#000" stroke-width="2.2" />
<line x1="110.20" y1="912.45" x2="115.20" y2="912.45" stroke="#000" stroke-width="2.2" />
<line x1="110.20" y1="906.10" x2="115.20" y2="906.10" stroke="#000" stroke-width="2.2" />
<line x1="110.20" y1="900.51" x2="115.20" y2="900.51" stroke="#000" stroke-width="2.2" />
<line x1="110.20" y1="862.57" x2="115.20" y2="862.57" stroke="#000" stroke-width="2.2" />
<line x1="110.20" y1="843.30" x2="115.20" y2="843.30" stroke="#000" stroke-width="2.2" />
<line x1="110.20" y1="829.63" x2="115.20" y2="829.63" stroke="#000" stroke-width="2.2" />
<line x1="110.20" y1="819.03" x2="115.20" y2="819.03" stroke="#000" stroke-width="2.2" />
<line x1="110.20" y1="810.37" x2="115.20" y2="810.37" stroke="#000" stroke-width="2.2" />
<line x1="110.20" y1="803.05" x2="115.20" y2="803.05" stroke="#000" stroke-width="2.2" />
<line x1="110.20" y1="796.70" x2="115.20" y2="796.70" stroke="#000" stroke-width="2.2" />
<line x1="110.20" y1="791.11" x2="115.20" y2="791.11" stroke="#000" stroke-width="2.2" />
<line x1="110.20" y1="753.17" x2="115.20" y2="753.17" stroke="#000" stroke-width="2.2" />
<line x1="110.20" y1="733.90" x2="115.20" y2="733.90" stroke="#000" stroke-width="2.2" />
<line x1="110.20" y1="720.23" x2="115.20" y2="720.23" stroke="#000" stroke-width="2.2" />
<line x1="110.20" y1="709.63" x2="115.20" y2="709.63" stroke="#000" stroke-width="2.2" />
<line x1="110.20" y1="700.97" x2="115.20" y2="700.97" stroke="#000" stroke-width="2.2" />
<line x1="110.20" y1="693.65" x2="115.20" y2="693.65" stroke="#000" stroke-width="2.2" />
<line x1="110.20" y1="687.30" x2="115.20" y2="687.30" stroke="#000" stroke-width="2.2" />
<line x1="110.20" y1="681.71" x2="115.20" y2="681.71" stroke="#000" stroke-width="2.2" />
<line x1="110.20" y1="643.77" x2="115.20" y2="643.77" stroke="#000" stroke-width="2.2" />
<text x="99.20" y="1120.80" font-size="28" text-anchor="end" >0.01</text>
<text x="99.20" y="1011.40" font-size="28" text-anchor="end" >0.1</text>
<text x="99.20" y="902.00" font-size="28" text-anchor="end" >1</text>
<text x="99.20" y="792.60" font-size="28" text-anchor="end" >10</text>
<text x="99.20" y="683.20" font-size="28" text-anchor="end" >100</text>
<line x1="210.30" y1="1114.00" x2="210.30" y2="1122.50" stroke="#000" stroke-width="2.2" />
<line x1="399.60" y1="1114.00" x2="399.60" y2="1122.50" stroke="#000" stroke-width="2.2" />
<line x1="588.80" y1="1114.00" x2="588.80" y2="1122.50" stroke="#000" stroke-width="2.2" />
<text x="210.30" y="1159.20" font-size="28" text-anchor="middle" >1.5</text>
<text x="399.60" y="1159.20" font-size="28" text-anchor="middle" >1.7</text>
<text x="588.80" y="1159.20" font-size="28" text-anchor="middle" >1.9</text>
<rect x="133.3" y="662.6" width="58.2" height="28.6" fill="#2140A0" stroke="#000" stroke-width="1.6"/>
<rect x="133.3" y="696.8" width="58.2" height="28.3" fill="#FF0000" stroke="#000" stroke-width="1.6"/>
<text x="198.40" y="686.00" font-size="26.5" text-anchor="start" >Commercial Pt/C || Ir/C</text>
<text x="197.60" y="719.90" font-size="26.5" text-anchor="start" >Pt<tspan dy="6.6" font-size="18">1</tspan><tspan dy="-6.6">&#8203;</tspan>/CoHPO couple</text>
<text x="410.40" y="1196.40" font-size="28.5" text-anchor="middle" >Cell voltage (V)</text>
<text transform="translate(29.4,877.3) rotate(-90)" font-size="28.5" text-anchor="middle">Mass activity (A mg<tspan dy="-14.5" font-size="18">-1</tspan><tspan dy="14.5">&#8203;</tspan><tspan dx="4">&#8203;</tspan><tspan dy="5.8" font-size="20">precious metal</tspan><tspan dy="-5.8">&#8203;</tspan>)</text>
</g>
<g id="pd">
<text x="779.6" y="638.8" font-size="36.5" font-weight="bold">d</text>
<clipPath id="clipd"><rect x="894.7" y="643.4" width="568.9" height="470.1"/></clipPath>
<g clip-path="url(#clipd)">
<circle cx="894.9" cy="878.8" r="8.2" fill="#fff" stroke="#1F3C9B" stroke-width="2.2"/>
<circle cx="909.8" cy="925" r="8.2" fill="#fff" stroke="#1F3C9B" stroke-width="2.2"/>
<circle cx="902.5" cy="941.3" r="8.2" fill="#fff" stroke="#1F3C9B" stroke-width="2.2"/>
<circle cx="917.2" cy="928.4" r="8.2" fill="#fff" stroke="#1F3C9B" stroke-width="2.2"/>
<circle cx="925.7" cy="930.4" r="8.2" fill="#fff" stroke="#1F3C9B" stroke-width="2.2"/>
<circle cx="933" cy="922.5" r="8.2" fill="#fff" stroke="#1F3C9B" stroke-width="2.2"/>
<circle cx="941.6" cy="921.5" r="8.2" fill="#fff" stroke="#1F3C9B" stroke-width="2.2"/>
<circle cx="948.5" cy="906" r="8.2" fill="#fff" stroke="#1F3C9B" stroke-width="2.2"/>
<circle cx="956.5" cy="905.2" r="8.2" fill="#fff" stroke="#1F3C9B" stroke-width="2.2"/>
<circle cx="965.4" cy="897.6" r="8.2" fill="#fff" stroke="#1F3C9B" stroke-width="2.2"/>
<circle cx="973.3" cy="905.2" r="8.2" fill="#fff" stroke="#1F3C9B" stroke-width="2.2"/>
<circle cx="980.3" cy="913.1" r="8.2" fill="#fff" stroke="#1F3C9B" stroke-width="2.2"/>
<circle cx="988.2" cy="917.9" r="8.2" fill="#fff" stroke="#1F3C9B" stroke-width="2.2"/>
<circle cx="997.2" cy="921.5" r="8.2" fill="#fff" stroke="#1F3C9B" stroke-width="2.2"/>
<circle cx="1005.1" cy="930.4" r="8.2" fill="#fff" stroke="#1F3C9B" stroke-width="2.2"/>
<circle cx="1012.1" cy="941.3" r="8.2" fill="#fff" stroke="#1F3C9B" stroke-width="2.2"/>
<circle cx="1020" cy="936.4" r="8.2" fill="#fff" stroke="#1F3C9B" stroke-width="2.2"/>
<circle cx="1027.5" cy="931.4" r="8.2" fill="#fff" stroke="#1F3C9B" stroke-width="2.2"/>
<circle cx="1035.9" cy="931" r="8.2" fill="#fff" stroke="#1F3C9B" stroke-width="2.2"/>
<circle cx="1043.8" cy="927.8" r="8.2" fill="#fff" stroke="#1F3C9B" stroke-width="2.2"/>
<circle cx="1051.8" cy="936.8" r="8.2" fill="#fff" stroke="#1F3C9B" stroke-width="2.2"/>
<circle cx="1060.1" cy="928.4" r="8.2" fill="#fff" stroke="#1F3C9B" stroke-width="2.2"/>
<circle cx="1067.6" cy="927.4" r="8.2" fill="#fff" stroke="#1F3C9B" stroke-width="2.2"/>
<circle cx="1075.6" cy="929.4" r="8.2" fill="#fff" stroke="#1F3C9B" stroke-width="2.2"/>
<circle cx="1083.5" cy="922.5" r="8.2" fill="#fff" stroke="#1F3C9B" stroke-width="2.2"/>
<circle cx="1091.5" cy="929.4" r="8.2" fill="#fff" stroke="#1F3C9B" stroke-width="2.2"/>
<circle cx="1099.4" cy="928.4" r="8.2" fill="#fff" stroke="#1F3C9B" stroke-width="2.2"/>
<circle cx="1107.4" cy="931.4" r="8.2" fill="#fff" stroke="#1F3C9B" stroke-width="2.2"/>
<circle cx="1115.3" cy="932.4" r="8.2" fill="#fff" stroke="#1F3C9B" stroke-width="2.2"/>
<circle cx="1123.2" cy="930.4" r="8.2" fill="#fff" stroke="#1F3C9B" stroke-width="2.2"/>
<circle cx="1131.2" cy="920.5" r="8.2" fill="#fff" stroke="#1F3C9B" stroke-width="2.2"/>
<circle cx="1139.5" cy="921.9" r="8.2" fill="#fff" stroke="#1F3C9B" stroke-width="2.2"/>
<circle cx="1147.1" cy="900.6" r="8.2" fill="#fff" stroke="#1F3C9B" stroke-width="2.2"/>
<circle cx="1155" cy="903.2" r="8.2" fill="#fff" stroke="#1F3C9B" stroke-width="2.2"/>
<circle cx="1163" cy="903.6" r="8.2" fill="#fff" stroke="#1F3C9B" stroke-width="2.2"/>
<circle cx="1170.9" cy="909.6" r="8.2" fill="#fff" stroke="#1F3C9B" stroke-width="2.2"/>
<circle cx="1178.5" cy="914.5" r="8.2" fill="#fff" stroke="#1F3C9B" stroke-width="2.2"/>
<circle cx="1186.6" cy="921.7" r="8.2" fill="#fff" stroke="#1F3C9B" stroke-width="2.2"/>
<circle cx="1193.8" cy="924.7" r="8.2" fill="#fff" stroke="#1F3C9B" stroke-width="2.2"/>
<circle cx="1201.3" cy="928.7" r="8.2" fill="#fff" stroke="#1F3C9B" stroke-width="2.2"/>
<circle cx="1210" cy="931.8" r="8.2" fill="#fff" stroke="#1F3C9B" stroke-width="2.2"/>
<circle cx="1218.5" cy="919.7" r="8.2" fill="#fff" stroke="#1F3C9B" stroke-width="2.2"/>
<circle cx="1225.5" cy="924.7" r="8.2" fill="#fff" stroke="#1F3C9B" stroke-width="2.2"/>
<circle cx="1233.6" cy="929.7" r="8.2" fill="#fff" stroke="#1F3C9B" stroke-width="2.2"/>
<circle cx="1241.7" cy="917.6" r="8.2" fill="#fff" stroke="#1F3C9B" stroke-width="2.2"/>
<circle cx="1249.7" cy="919.7" r="8.2" fill="#fff" stroke="#1F3C9B" stroke-width="2.2"/>
<circle cx="1257.8" cy="925.7" r="8.2" fill="#fff" stroke="#1F3C9B" stroke-width="2.2"/>
<circle cx="1264.9" cy="904.5" r="8.2" fill="#fff" stroke="#1F3C9B" stroke-width="2.2"/>
<circle cx="1273" cy="894.4" r="8.2" fill="#fff" stroke="#1F3C9B" stroke-width="2.2"/>
<circle cx="1280.6" cy="898.5" r="8.2" fill="#fff" stroke="#1F3C9B" stroke-width="2.2"/>
<circle cx="1289.1" cy="901.5" r="8.2" fill="#fff" stroke="#1F3C9B" stroke-width="2.2"/>
<circle cx="1297.2" cy="905.5" r="8.2" fill="#fff" stroke="#1F3C9B" stroke-width="2.2"/>
<circle cx="1305.3" cy="921.7" r="8.2" fill="#fff" stroke="#1F3C9B" stroke-width="2.2"/>
<circle cx="1312.3" cy="935.8" r="8.2" fill="#fff" stroke="#1F3C9B" stroke-width="2.2"/>
<circle cx="1320.4" cy="899.5" r="8.2" fill="#fff" stroke="#1F3C9B" stroke-width="2.2"/>
<circle cx="1328.5" cy="903.5" r="8.2" fill="#fff" stroke="#1F3C9B" stroke-width="2.2"/>
<circle cx="1335.6" cy="925.7" r="8.2" fill="#fff" stroke="#1F3C9B" stroke-width="2.2"/>
<circle cx="1343.6" cy="924.7" r="8.2" fill="#fff" stroke="#1F3C9B" stroke-width="2.2"/>
<circle cx="1351.7" cy="924.7" r="8.2" fill="#fff" stroke="#1F3C9B" stroke-width="2.2"/>
<circle cx="1359.8" cy="925.7" r="8.2" fill="#fff" stroke="#1F3C9B" stroke-width="2.2"/>
<circle cx="1367.9" cy="927.7" r="8.2" fill="#fff" stroke="#1F3C9B" stroke-width="2.2"/>
<circle cx="1374.9" cy="929.7" r="8.2" fill="#fff" stroke="#1F3C9B" stroke-width="2.2"/>
<circle cx="1384" cy="929.7" r="8.2" fill="#fff" stroke="#1F3C9B" stroke-width="2.2"/>
<circle cx="1392.1" cy="931.8" r="8.2" fill="#fff" stroke="#1F3C9B" stroke-width="2.2"/>
<circle cx="1399.8" cy="910.6" r="8.2" fill="#fff" stroke="#1F3C9B" stroke-width="2.2"/>
<circle cx="1407.8" cy="908.6" r="8.2" fill="#fff" stroke="#1F3C9B" stroke-width="2.2"/>
<circle cx="1415.3" cy="910.6" r="8.2" fill="#fff" stroke="#1F3C9B" stroke-width="2.2"/>
<circle cx="1423.4" cy="912.6" r="8.2" fill="#fff" stroke="#1F3C9B" stroke-width="2.2"/>
<circle cx="1431.5" cy="914.6" r="8.2" fill="#fff" stroke="#1F3C9B" stroke-width="2.2"/>
<circle cx="1439.5" cy="917.6" r="8.2" fill="#fff" stroke="#1F3C9B" stroke-width="2.2"/>
<circle cx="1446.6" cy="938.8" r="8.2" fill="#fff" stroke="#1F3C9B" stroke-width="2.2"/>
<circle cx="1454.7" cy="935.8" r="8.2" fill="#fff" stroke="#1F3C9B" stroke-width="2.2"/>
<circle cx="1462.8" cy="939.8" r="8.2" fill="#fff" stroke="#1F3C9B" stroke-width="2.2"/>
</g>
<rect x="894.7" y="643.4" width="568.90" height="470.10" fill="none" stroke="#000" stroke-width="2.2"/>
<line x1="885.20" y1="1113.50" x2="894.70" y2="1113.50" stroke="#000" stroke-width="2.2" />
<line x1="885.20" y1="1019.50" x2="894.70" y2="1019.50" stroke="#000" stroke-width="2.2" />
<line x1="885.20" y1="925.50" x2="894.70" y2="925.50" stroke="#000" stroke-width="2.2" />
<line x1="885.20" y1="831.50" x2="894.70" y2="831.50" stroke="#000" stroke-width="2.2" />
<line x1="885.20" y1="737.50" x2="894.70" y2="737.50" stroke="#000" stroke-width="2.2" />
<line x1="885.20" y1="643.50" x2="894.70" y2="643.50" stroke="#000" stroke-width="2.2" />
<line x1="889.70" y1="1066.50" x2="894.70" y2="1066.50" stroke="#000" stroke-width="2.2" />
<line x1="889.70" y1="972.50" x2="894.70" y2="972.50" stroke="#000" stroke-width="2.2" />
<line x1="889.70" y1="878.50" x2="894.70" y2="878.50" stroke="#000" stroke-width="2.2" />
<line x1="889.70" y1="784.50" x2="894.70" y2="784.50" stroke="#000" stroke-width="2.2" />
<line x1="889.70" y1="690.50" x2="894.70" y2="690.50" stroke="#000" stroke-width="2.2" />
<text x="878.60" y="1120.00" font-size="28" text-anchor="end" >0.0</text>
<text x="878.60" y="1026.00" font-size="28" text-anchor="end" >0.2</text>
<text x="878.60" y="932.00" font-size="28" text-anchor="end" >0.4</text>
<text x="878.60" y="838.00" font-size="28" text-anchor="end" >0.6</text>
<text x="878.60" y="744.00" font-size="28" text-anchor="end" >0.8</text>
<text x="878.60" y="650.00" font-size="28" text-anchor="end" >1.0</text>
<line x1="894.50" y1="1113.50" x2="894.50" y2="1123.00" stroke="#000" stroke-width="2.2" />
<line x1="1036.78" y1="1113.50" x2="1036.78" y2="1123.00" stroke="#000" stroke-width="2.2" />
<line x1="1179.05" y1="1113.50" x2="1179.05" y2="1123.00" stroke="#000" stroke-width="2.2" />
<line x1="1321.33" y1="1113.50" x2="1321.33" y2="1123.00" stroke="#000" stroke-width="2.2" />
<line x1="1463.60" y1="1113.50" x2="1463.60" y2="1123.00" stroke="#000" stroke-width="2.2" />
<line x1="965.64" y1="1113.50" x2="965.64" y2="1118.50" stroke="#000" stroke-width="2.2" />
<line x1="1107.91" y1="1113.50" x2="1107.91" y2="1118.50" stroke="#000" stroke-width="2.2" />
<line x1="1250.19" y1="1113.50" x2="1250.19" y2="1118.50" stroke="#000" stroke-width="2.2" />
<line x1="1392.46" y1="1113.50" x2="1392.46" y2="1118.50" stroke="#000" stroke-width="2.2" />
<text x="894.50" y="1152.20" font-size="28" text-anchor="middle" >0</text>
<text x="1036.78" y="1152.20" font-size="28" text-anchor="middle" >25</text>
<text x="1179.05" y="1152.20" font-size="28" text-anchor="middle" >50</text>
<text x="1321.33" y="1152.20" font-size="28" text-anchor="middle" >75</text>
<text x="1463.60" y="1152.20" font-size="28" text-anchor="middle" >100</text>
<circle cx="1201.1" cy="691.4" r="8.6" fill="#fff" stroke="#1F3C9B" stroke-width="2.2"/>
<text x="1227.90" y="700.00" font-size="26.5" text-anchor="start" >Pt<tspan dy="6.6" font-size="18">1</tspan><tspan dy="-6.6">&#8203;</tspan>/CoHPO couple</text>
<text x="1179.20" y="1195.80" font-size="29.3" text-anchor="middle" >Test time (hrs)</text>
<text transform="translate(811.2,872.8) rotate(-90)" font-size="28.5" text-anchor="middle">Current density (A cm<tspan dy="-14.8" font-size="19.5">-2</tspan><tspan dy="14.8">&#8203;</tspan>)</text>
</g>
</svg></body></html>
